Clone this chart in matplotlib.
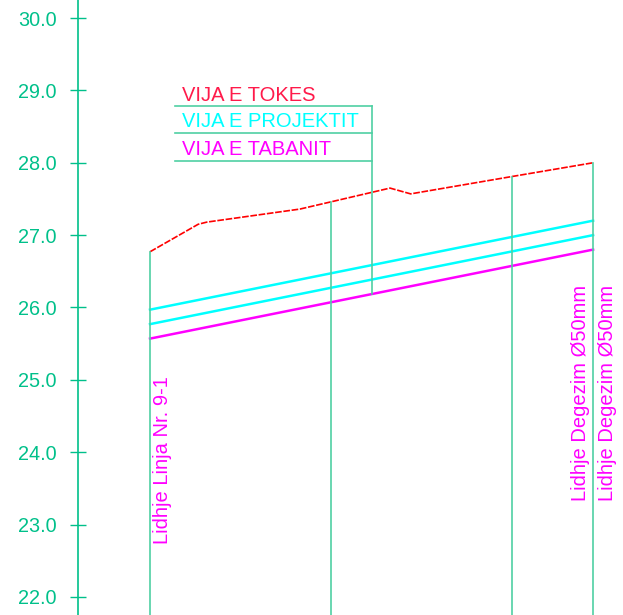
import numpy as np
import matplotlib
matplotlib.use("Agg")
from matplotlib import pyplot as plt

plt.rcParams['font.family'] = ['Liberation Sans', 'DejaVu Sans']

# chainage (m) and levels (m)
tokes_x = [0, 13.3, 15.7, 41.4, 50.0, 66.3, 72.0, 100.0, 122.4]
tokes_y = [26.77, 27.15, 27.18, 27.36, 27.46, 27.65, 27.57, 27.81, 28.00]
proj_x = [0, 122.4]
projekt_top = [25.97, 27.20]
projekt_bot = [25.77, 27.00]
taban = [25.57, 26.80]

# vertical station lines
stations = [0, 50.0, 100.0, 122.4]
legend_x = 61.3
legend_levels = [28.78, 28.41, 28.03]
legend_labels = ["VIJA E TOKES", "VIJA E PROJEKTIT", "VIJA E TABANIT"]
legend_colors = ["#ff1a4a", "#00ffff", "#ff00ff"]

notes_x = [3.5, 118.9, 126.5]
notes_y = [22.73, 23.33, 23.33]
notes_txt = ["Lidhje Linja Nr. 9-1", "Lidhje Degezim Ø50mm", "Lidhje Degezim Ø50mm"]

yticks = np.arange(22, 30.5, 1.0)

green = "#00c08a"
light = "#4fd0a3"

fig = plt.figure(figsize=(6.23, 6.15), dpi=100)
ax = fig.add_axes([0, 0, 1, 1])
ax.set_xlim(-41.44, 130.66)
ax.set_ylim(21.751, 30.249)

# ground, design and bottom lines
ax.plot(tokes_x, tokes_y, color="#ff0000", lw=1.2, linestyle=(0, (4, 1)))
ax.plot(proj_x, projekt_top, color="#00ffff", lw=1.8)
ax.plot(proj_x, projekt_bot, color="#00ffff", lw=1.8)
ax.plot(proj_x, taban, color="#ff00ff", lw=1.8)

ybot = ax.get_ylim()[0]
for s in stations:
    top = np.interp(s, tokes_x, tokes_y)
    ax.plot([s, s], [ybot, top], color=light, lw=1.2)

# legend box
ax.plot([legend_x, legend_x], [np.interp(legend_x, proj_x, taban), legend_levels[0]], color=light, lw=1.2)
for lev in legend_levels:
    ax.plot([6.9, legend_x], [lev, lev], color=light, lw=1.2)
for lev, lab, c in zip(legend_levels, legend_labels, legend_colors):
    ax.text(8.8, lev + 0.08, lab, color=c, fontsize=14.5, va='baseline', ha='left')

for x, y, t in zip(notes_x, notes_y, notes_txt):
    ax.text(x, y, t, color="#ff00ff", fontsize=14.5,
            rotation=90, ha='center', va='bottom')

# y axis
for side in ['top', 'right', 'bottom']:
    ax.spines[side].set_visible(False)
ax.spines['left'].set_position(('data', -19.9))
ax.spines['left'].set_color(green)
ax.spines['left'].set_linewidth(1.2)
ax.set_xticks([])
ax.set_yticks(yticks)
ax.set_yticklabels([f"{v:.1f}" for v in yticks])
ax.tick_params(axis='y', direction='inout', length=11, width=1.0, color=green,
               labelcolor=green, labelsize=14.3, pad=10)

fig.savefig("out.png", dpi=100)
